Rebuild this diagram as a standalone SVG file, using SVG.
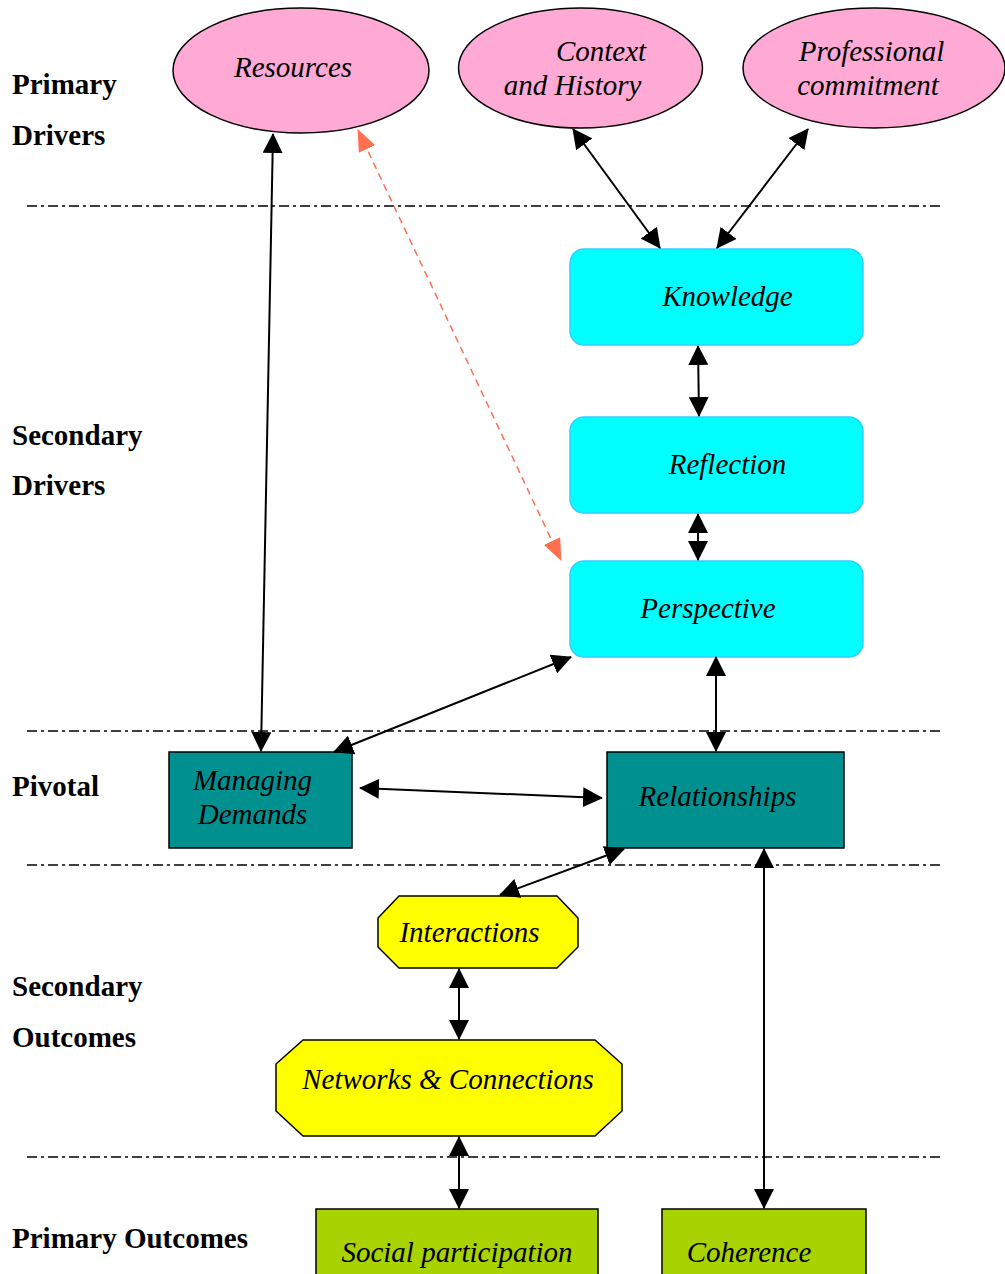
<svg xmlns="http://www.w3.org/2000/svg" width="1005" height="1274" viewBox="0 0 1005 1274">
<style>
.lbl{font-family:"Liberation Serif","Times New Roman",serif;font-weight:bold;font-size:29px;fill:#000}
.it{font-family:"Liberation Serif","Times New Roman",serif;font-style:italic;font-size:29px;fill:#000;text-anchor:middle}
.ell{fill:#FFAAD4;stroke:#000;stroke-width:1.5}
.cyan{fill:#00FFFF;stroke:#2FD0FF;stroke-width:1.5}
.teal{fill:#009090;stroke:#000;stroke-width:1.5}
.yel{fill:#FFFF00;stroke:#000;stroke-width:1.5}
.grn{fill:#A8D200;stroke:#000;stroke-width:1.5}
.sep{stroke:#000;stroke-width:1.5;stroke-dasharray:10 4 3 4;fill:none}
.con{stroke:#000;stroke-width:2;fill:none;marker-start:url(#ah);marker-end:url(#ah)}
.dash{stroke:#FF6F50;stroke-width:1.5;stroke-dasharray:7 5;fill:none;marker-start:url(#ahr);marker-end:url(#ahr)}
</style>
<defs>
<marker id="ah" markerUnits="userSpaceOnUse" markerWidth="20" markerHeight="20" refX="19" refY="10" orient="auto-start-reverse" viewBox="0 0 20 20">
<path d="M0,0 L20,10 L0,20 z" fill="#000"/>
</marker>
<marker id="ahr" markerUnits="userSpaceOnUse" markerWidth="22" markerHeight="18" refX="21" refY="9" orient="auto-start-reverse" viewBox="0 0 22 18">
<path d="M0,0 L22,9 L0,18 z" fill="#FF6F50"/>
</marker>
</defs>
<rect width="1005" height="1274" fill="#fff"/>

<g id="labels">
<text class="lbl" x="12" y="94">Primary</text>
<text class="lbl" x="12" y="145">Drivers</text>
<text class="lbl" x="12" y="445">Secondary</text>
<text class="lbl" x="12" y="495">Drivers</text>
<text class="lbl" x="12" y="796">Pivotal</text>
<text class="lbl" x="12" y="996">Secondary</text>
<text class="lbl" x="12" y="1047">Outcomes</text>
<text class="lbl" x="12" y="1248">Primary Outcomes</text>
</g>

<g id="separators">
<line class="sep" x1="27" y1="206" x2="940" y2="206"/>
<line class="sep" x1="27" y1="731" x2="940" y2="731"/>
<line class="sep" x1="27" y1="865" x2="940" y2="865"/>
<line class="sep" x1="27" y1="1157" x2="940" y2="1157"/>
</g>

<g id="resources">
<ellipse class="ell" cx="301" cy="70.5" rx="128" ry="62.5"/>
<text class="it" x="293" y="77">Resources</text>
</g>
<g id="context">
<ellipse class="ell" cx="580.5" cy="68" rx="122" ry="60"/>
<text class="it" x="601" y="61">Context</text>
<text class="it" x="572.5" y="95">and History</text>
</g>
<g id="commitment">
<ellipse class="ell" cx="874" cy="68" rx="131" ry="60"/>
<text class="it" x="871.5" y="61">Professional</text>
<text class="it" x="868" y="95">commitment</text>
</g>

<g id="knowledge">
<rect class="cyan" x="570" y="249" width="293" height="96" rx="14"/>
<text class="it" x="727.5" y="306">Knowledge</text>
</g>
<g id="reflection">
<rect class="cyan" x="570" y="417" width="293" height="96" rx="14"/>
<text class="it" x="727.5" y="474">Reflection</text>
</g>
<g id="perspective">
<rect class="cyan" x="570" y="561" width="293" height="96" rx="14"/>
<text class="it" x="708" y="618">Perspective</text>
</g>

<g id="managing">
<rect class="teal" x="169" y="752" width="183" height="96"/>
<text class="it" x="252.5" y="790">Managing</text>
<text class="it" x="252.5" y="824">Demands</text>
</g>
<g id="relationships">
<rect class="teal" x="607" y="752" width="237" height="96"/>
<text class="it" x="717.5" y="806">Relationships</text>
</g>

<g id="interactions">
<polygon class="yel" points="399,896 557,896 578,918 578,947 557,968 399,968 378,947 378,918"/>
<text class="it" x="469.5" y="942">Interactions</text>
</g>
<g id="networks">
<polygon class="yel" points="303,1040 595,1040 622,1064 622,1111 595,1136 303,1136 276,1111 276,1064"/>
<text class="it" x="448" y="1089">Networks &amp; Connections</text>
</g>

<g id="social">
<rect class="grn" x="316" y="1209" width="282" height="80"/>
<text class="it" x="457" y="1262">Social participation</text>
</g>
<g id="coherence">
<rect class="grn" x="662" y="1209" width="204" height="80"/>
<text class="it" x="749" y="1262">Coherence</text>
</g>

<g id="connectors">
<line class="con" x1="273" y1="134" x2="261" y2="751"/>
<line class="dash" x1="358" y1="130" x2="561" y2="560"/>
<line class="con" x1="573" y1="129" x2="660" y2="248"/>
<line class="con" x1="808" y1="129" x2="717" y2="248"/>
<line class="con" x1="698" y1="346" x2="699" y2="416"/>
<line class="con" x1="698" y1="514" x2="698" y2="560"/>
<line class="con" x1="716" y1="657" x2="716" y2="751"/>
<line class="con" x1="571" y1="657" x2="334" y2="752"/>
<line class="con" x1="360" y1="788" x2="602" y2="798"/>
<line class="con" x1="624" y1="849" x2="500" y2="895"/>
<line class="con" x1="764" y1="849" x2="764" y2="1208"/>
<line class="con" x1="459" y1="969" x2="459" y2="1039"/>
<line class="con" x1="459" y1="1137" x2="459" y2="1208"/>
</g>
</svg>
